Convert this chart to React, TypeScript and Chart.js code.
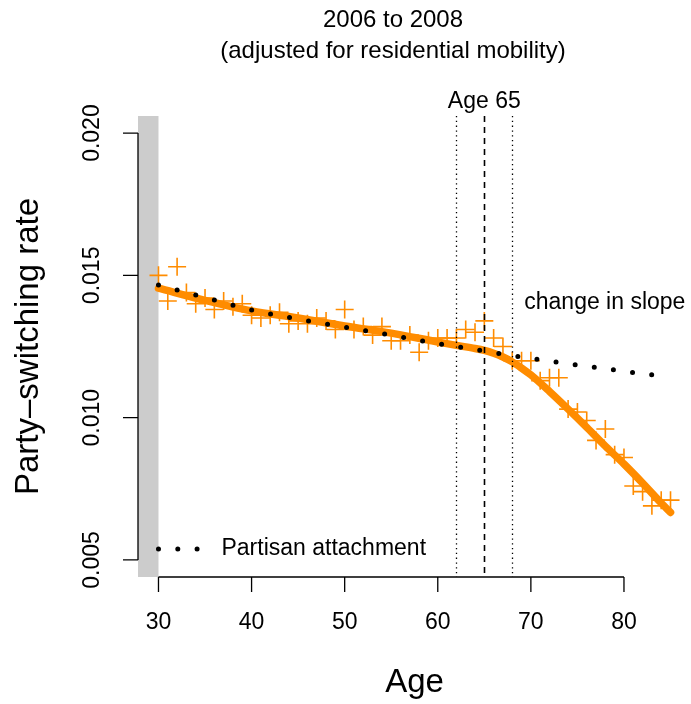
import React, { useEffect, useRef } from "react";
import { Chart, registerables } from "chart.js";

Chart.register(...registerables);

// Observed party-switching rates by age (orange crosses)
const ages = [
  30, 31, 32, 33, 34, 35, 36, 37, 38, 39, 40, 41, 42, 43, 44, 45, 46, 47, 48, 49,
  50, 51, 52, 53, 54, 55, 56, 57, 58, 59, 60, 61, 62, 63, 64, 65, 66, 67, 68, 69,
  70, 71, 72, 73, 74, 75, 76, 77, 78, 79, 80, 81, 82, 83, 84, 85,
];
const switchRates = [
  0.0150, 0.0141, 0.0153, 0.0144, 0.0140, 0.0142, 0.0138, 0.0141, 0.0139, 0.0140,
  0.0136, 0.0135, 0.0136, 0.0137, 0.0133, 0.0134, 0.0133, 0.0135, 0.0134, 0.0131,
  0.0138, 0.0131, 0.0132, 0.0129, 0.0132, 0.0127, 0.0127, 0.0129, 0.0123, 0.0127,
  0.0128, 0.0128, 0.0128, 0.0131, 0.0130, 0.0134, 0.0128, 0.0125, 0.0120, 0.0120,
  0.0120, 0.0113, 0.0114, 0.0114, 0.0103, 0.0102, 0.0099, 0.0092, 0.0096, 0.0087,
  0.0086, 0.0076, 0.0074, 0.0069, 0.0071, 0.0071,
];

// Smoothed fit (thick orange line)
const fitAges = [30, 35, 40, 45, 50, 55, 60, 62, 64, 65, 66, 67, 68, 69, 70, 72, 74, 76, 78, 80, 82, 84, 85];
const fitRates = [
  0.01455, 0.01412, 0.01375, 0.01350, 0.01322, 0.01297, 0.01266, 0.01254, 0.01243,
  0.01236, 0.01226, 0.01213, 0.01196, 0.01174, 0.01150, 0.01092, 0.01030, 0.00966,
  0.00900, 0.00837, 0.00770, 0.00700, 0.00667,
];

// Partisan attachment (black dotted line)
const attachAges = [30, 35, 40, 45, 50, 55, 60, 65, 70, 75, 80, 84];
const attachRates = [
  0.01466, 0.01422, 0.01378, 0.01346, 0.01318, 0.01290, 0.01260, 0.01234, 0.01208,
  0.01185, 0.01163, 0.01146,
];

const xTicks = [30, 40, 50, 60, 70, 80];
const yTicks = [0.005, 0.01, 0.015, 0.02];
const yTickLabels = ["0.005", "0.010", "0.015", "0.020"];
const retirementAge = 65;
const windowAges = [62, 68];

const titleLines = ["2006 to 2008", "(adjusted for residential mobility)"];
const xTitle = "Age";
const yTitle = "Party\u2013switching rate";
const legendLabel = "Partisan attachment";
const slopeLabel = "change in slope";
const ageLabel = "Age 65";

const ORANGE = "#FF8C00";
const FONT = '"Liberation Sans", Arial, Helvetica, sans-serif';

const rPlot = {
  id: "rPlot",
  beforeDatasetsDraw(chart: any) {
    const { ctx, chartArea, scales } = chart;
    const x = scales.x;
    ctx.save();
    ctx.fillStyle = "#CCCCCC";
    const x30 = x.getPixelForValue(30);
    ctx.fillRect(chartArea.left, chartArea.top, x30 - chartArea.left, chartArea.bottom - chartArea.top);
    ctx.restore();
  },
  afterDatasetsDraw(chart: any) {
    const { ctx, chartArea, scales } = chart;
    const x = scales.x;
    const y = scales.y;
    const L = chartArea.left;
    const B = chartArea.bottom;
    const T = chartArea.top;
    ctx.save();
    ctx.strokeStyle = "#000";
    ctx.fillStyle = "#000";

    // vertical reference lines
    ctx.lineWidth = 1.3;
    ctx.setLineDash([1.3, 3.5]);
    for (const a of windowAges) {
      const px = Math.round(x.getPixelForValue(a)) + 0.5;
      ctx.beginPath();
      ctx.moveTo(px, T);
      ctx.lineTo(px, B);
      ctx.stroke();
    }
    ctx.lineWidth = 1.6;
    ctx.setLineDash([6, 5]);
    {
      const px = Math.round(x.getPixelForValue(retirementAge)) + 0.5;
      ctx.beginPath();
      ctx.moveTo(px, T);
      ctx.lineTo(px, B);
      ctx.stroke();
    }
    ctx.setLineDash([]);

    // axes
    ctx.lineWidth = 1.3;
    const tick = 15;
    const yTop = y.getPixelForValue(yTicks[yTicks.length - 1]);
    const yBot = y.getPixelForValue(yTicks[0]);
    ctx.beginPath();
    ctx.moveTo(L, yTop);
    ctx.lineTo(L, yBot);
    for (const v of yTicks) {
      const py = y.getPixelForValue(v);
      ctx.moveTo(L, py);
      ctx.lineTo(L - tick, py);
    }
    ctx.stroke();
    const xL = x.getPixelForValue(xTicks[0]);
    const xR = x.getPixelForValue(xTicks[xTicks.length - 1]);
    ctx.beginPath();
    ctx.moveTo(xL, B);
    ctx.lineTo(xR, B);
    for (const v of xTicks) {
      const px = x.getPixelForValue(v);
      ctx.moveTo(px, B);
      ctx.lineTo(px, B + tick);
    }
    ctx.stroke();

    // tick labels
    ctx.font = `23px ${FONT}`;
    ctx.textAlign = "center";
    ctx.textBaseline = "middle";
    for (const v of xTicks) {
      ctx.fillText(String(v), x.getPixelForValue(v), B + 46);
    }
    yTicks.forEach((v, i) => {
      ctx.save();
      ctx.translate(L - 45, y.getPixelForValue(v));
      ctx.rotate(-Math.PI / 2);
      ctx.fillText(yTickLabels[i], 0, 0);
      ctx.restore();
    });

    // axis titles
    ctx.font = `33px ${FONT}`;
    ctx.fillText(xTitle, (L + chartArea.right) / 2, B + 106);
    ctx.save();
    ctx.translate(29, (T + B) / 2);
    ctx.rotate(-Math.PI / 2);
    ctx.fillText(yTitle, 0, 0);
    ctx.restore();

    // main title
    ctx.font = `24px ${FONT}`;
    ctx.fillText(titleLines[0], 393, 20);
    ctx.fillText(titleLines[1], 393, 51);

    // annotations
    ctx.font = `23px ${FONT}`;
    ctx.fillText(ageLabel, x.getPixelForValue(retirementAge), T - 14);
    ctx.textAlign = "left";
    ctx.fillText(slopeLabel, x.getPixelForValue(windowAges[1]) + 12, T + 187);

    // legend
    const ly = B - 28;
    const lx0 = x.getPixelForValue(30);
    for (let i = 0; i < 3; i++) {
      ctx.beginPath();
      ctx.arc(lx0 + i * 19.3, ly, 2.5, 0, Math.PI * 2);
      ctx.fill();
    }
    ctx.fillText(legendLabel, lx0 + 63, ly);
    ctx.restore();
  },
};

export default function App() {
  const ref = useRef<HTMLCanvasElement | null>(null);
  useEffect(() => {
    if (!ref.current) return;
    const chart = new Chart(ref.current, {
      type: "line",
      data: {
        datasets: [
          {
            label: "fit",
            data: fitAges.map((a, i) => ({ x: a, y: fitRates[i] })),
            borderColor: ORANGE,
            borderWidth: 7.5,
            borderCapStyle: "round",
            borderJoinStyle: "round",
            pointRadius: 0,
            cubicInterpolationMode: "monotone",
            order: 3,
          },
          {
            label: "observed",
            data: ages.map((a, i) => ({ x: a, y: switchRates[i] })),
            showLine: false,
            pointStyle: "cross",
            pointRadius: 9,
            pointBorderWidth: 1.6,
            pointBorderColor: ORANGE,
            borderColor: ORANGE,
            order: 2,
          },
          {
            label: legendLabel,
            data: attachAges.map((a, i) => ({ x: a, y: attachRates[i] })),
            borderColor: "#000",
            borderWidth: 5,
            borderDash: [0, 19.3],
            borderCapStyle: "round",
            pointRadius: 0,
            cubicInterpolationMode: "monotone",
            order: 1,
          },
        ],
      },
      options: {
        animation: false,
        responsive: false,
        devicePixelRatio: 1,
        layout: { autoPadding: false, padding: { left: 138, right: 0, top: 116, bottom: 127 } },
        plugins: { legend: { display: false }, tooltip: { enabled: false }, title: { display: false } },
        scales: {
          x: { type: "linear", min: 27.8, max: 87.2, display: false },
          y: { type: "linear", min: 0.0044, max: 0.0206, display: false },
        },
      },
      plugins: [rPlot],
    } as any);
    return () => chart.destroy();
  }, []);
  return (
    <div style={{ position: "absolute", left: 0, top: 0, width: 691, height: 704, background: "#fff" }}>
      <canvas ref={ref} width={691} height={704} style={{ display: "block" }} />
    </div>
  );
}
